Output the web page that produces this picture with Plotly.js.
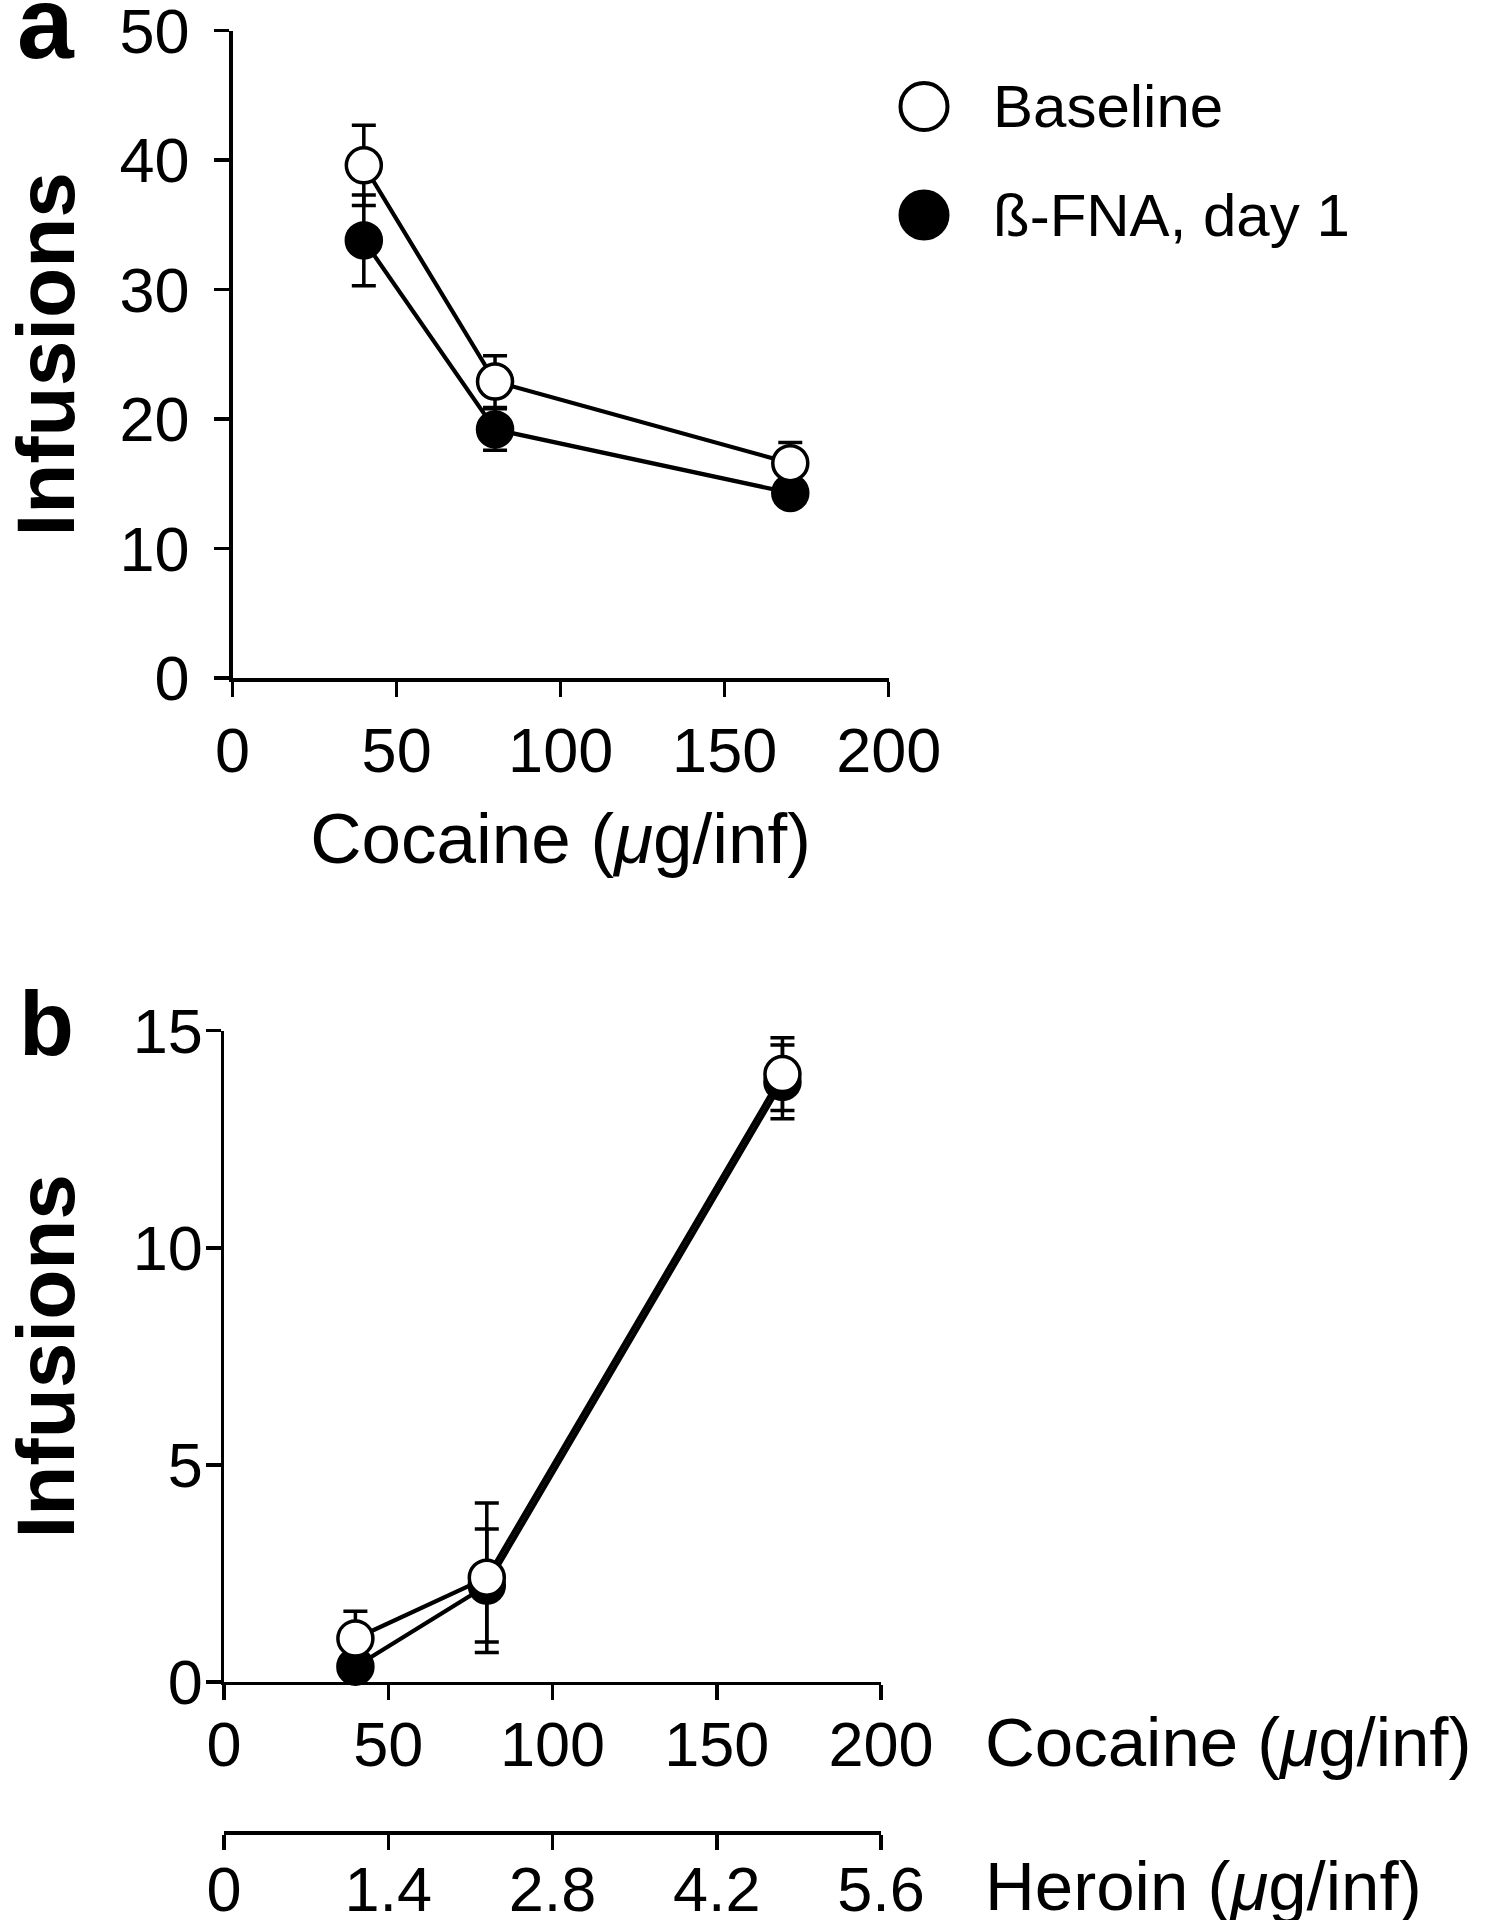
<!DOCTYPE html>
<html>
<head>
<meta charset="utf-8">
<script src="https://cdn.plot.ly/plotly-3.0.1.min.js"></script>
<style>
  html, body { margin: 0; padding: 0; background: #fff; }
  #chart { width: 1486px; height: 1920px; }
</style>
</head>
<body>
<div id="chart"></div>
<script>
// Doses (cocaine, µg/inf) used in both panels
const cocaineDose = [40, 80, 170];

// Panel a: cocaine self-administration
const baselineA = [39.6, 22.9, 16.6];
const baselineAErr = [3.1, 2.0, 1.6];
const fnaA = [33.8, 19.2, 14.3];
const fnaAErr = [3.5, 1.6, 0.9];

// Panel b: cocaine + heroin
const baselineB = [1.0, 2.4, 14.0];
const baselineBErr = [0.63, 1.72, 0.84];
const fnaB = [0.35, 2.22, 13.82];
const fnaBErr = [0.3, 1.3, 0.85];

const seriesNames = ['Baseline', 'ß-FNA, day 1'];
const yTicksA = [0, 10, 20, 30, 40, 50];
const yTicksB = [0, 5, 10, 15];
const cocaineTicks = [0, 50, 100, 150, 200];
const heroinTicks = [0, 1.4, 2.8, 4.2, 5.6];
const heroinTickText = ['0', '1.4', '2.8', '4.2', '5.6'];

const W = 1486, H = 1920;
const FONT = 'Liberation Sans, Arial, sans-serif';
const px = x => x / W;
const py = y => 1 - y / H;

function series(x, y, err, open, xa, ya) {
  return {
    x, y,
    xaxis: xa, yaxis: ya,
    type: 'scatter',
    mode: 'lines+markers',
    cliponaxis: false,
    showlegend: false,
    line: { color: '#000', width: 4.2 },
    marker: {
      size: 35,
      color: open ? '#fff' : '#000',
      line: { color: '#000', width: 3.5 },
    },
    error_y: { type: 'data', array: err, visible: true, color: '#000', thickness: 3.5, width: 12 },
  };
}

const traces = [
  series(cocaineDose, fnaA, fnaAErr, false, 'x', 'y'),
  series(cocaineDose, baselineA, baselineAErr, true, 'x', 'y'),
  series(cocaineDose, fnaB, fnaBErr, false, 'x2', 'y2'),
  series(cocaineDose, baselineB, baselineBErr, true, 'x2', 'y2'),
  // empty trace so the heroin dose axis gets its own subplot
  { x: [], y: [], xaxis: 'x3', yaxis: 'y5', type: 'scatter', mode: 'markers', showlegend: false },
  // legend keys
  {
    x: seriesNames.map(() => 0),
    y: seriesNames,
    xaxis: 'x4', yaxis: 'y4',
    type: 'scatter', mode: 'markers', showlegend: false, cliponaxis: false,
    marker: { size: 47, color: ['#fff', '#000'], line: { color: '#000', width: 4 } },
  },
];

const axisBase = {
  showline: true, linecolor: '#000', linewidth: 3.5,
  ticks: 'outside', ticklen: 15, tickwidth: 3.5, tickcolor: '#000',
  showgrid: false, zeroline: false, fixedrange: true,
  tickfont: { family: FONT, size: 63, color: '#000' },
  ticklabeloverflow: 'allow',
};

const layout = {
  width: W, height: H,
  margin: { l: 0, r: 0, t: 0, b: 0 },
  paper_bgcolor: '#fff', plot_bgcolor: '#fff',
  font: { family: FONT, color: '#000' },
  showlegend: false,
  xaxis: {
    ...axisBase, domain: [px(232.6), px(888.7)], anchor: 'y',
    range: [0, 200], tickvals: cocaineTicks, ticklabelstandoff: 0,
    title: { text: 'Cocaine (<i>μ</i>g/inf)', font: { family: FONT, size: 71 }, standoff: 30 },
  },
  yaxis: {
    ...axisBase, domain: [py(678.1), py(30.6)], anchor: 'x',
    range: [0, 50], tickvals: yTicksA, ticklabelstandoff: 12,
    title: { text: '<b>Infusions</b>', font: { family: FONT, size: 82 }, standoff: 30 },
  },
  xaxis2: {
    ...axisBase, domain: [px(224), px(881)], anchor: 'y2',
    range: [0, 200], tickvals: cocaineTicks, ticklabelstandoff: -10,
  },
  yaxis2: {
    ...axisBase, domain: [py(1681.9), py(1030.7)], anchor: 'x2',
    range: [0, 15], tickvals: yTicksB, ticklabelstandoff: -10,
    title: { text: '<b>Infusions</b>', font: { family: FONT, size: 82 }, standoff: 47 },
  },
  xaxis3: {
    ...axisBase, domain: [px(224), px(881)], anchor: 'y5',
    range: [0, 5.6], tickvals: heroinTicks, ticktext: heroinTickText, ticklabelstandoff: -14,
  },
  yaxis5: { domain: [py(1831), py(1821)], anchor: 'x3', visible: false, fixedrange: true, range: [0, 1] },
  xaxis4: { domain: [px(900), px(948)], anchor: 'y4', range: [-1, 1], visible: false, fixedrange: true },
  yaxis4: {
    domain: [py(269.25), py(52.25)], anchor: 'x4', visible: false, fixedrange: true,
    type: 'category', categoryarray: seriesNames, range: [1.5, -0.5],
  },
  annotations: [
    { text: '<b>a</b>', xref: 'paper', yref: 'paper', x: px(46), y: py(23), xanchor: 'center', yanchor: 'middle',
      showarrow: false, font: { family: FONT, size: 102 } },
    { text: '<b>b</b>', xref: 'paper', yref: 'paper', x: px(46), y: py(1024), xanchor: 'center', yanchor: 'middle',
      showarrow: false, font: { family: FONT, size: 90 } },
    { text: 'Cocaine (<i>μ</i>g/inf)', xref: 'paper', yref: 'paper', x: px(983), y: py(1742),
      xanchor: 'left', yanchor: 'middle', showarrow: false, font: { family: FONT, size: 69 } },
    { text: 'Heroin (<i>μ</i>g/inf)', xref: 'paper', yref: 'paper', x: px(983), y: py(1886),
      xanchor: 'left', yanchor: 'middle', showarrow: false, font: { family: FONT, size: 69 } },
    ...seriesNames.map(name => ({
      text: name, xref: 'x4', yref: 'y4', x: 0, y: name, xanchor: 'left', yanchor: 'middle',
      xshift: 67, showarrow: false, font: { family: FONT, size: 60 },
    })),
  ],
};

Plotly.newPlot('chart', traces, layout, { displayModeBar: false, staticPlot: true });
</script>
</body>
</html>
